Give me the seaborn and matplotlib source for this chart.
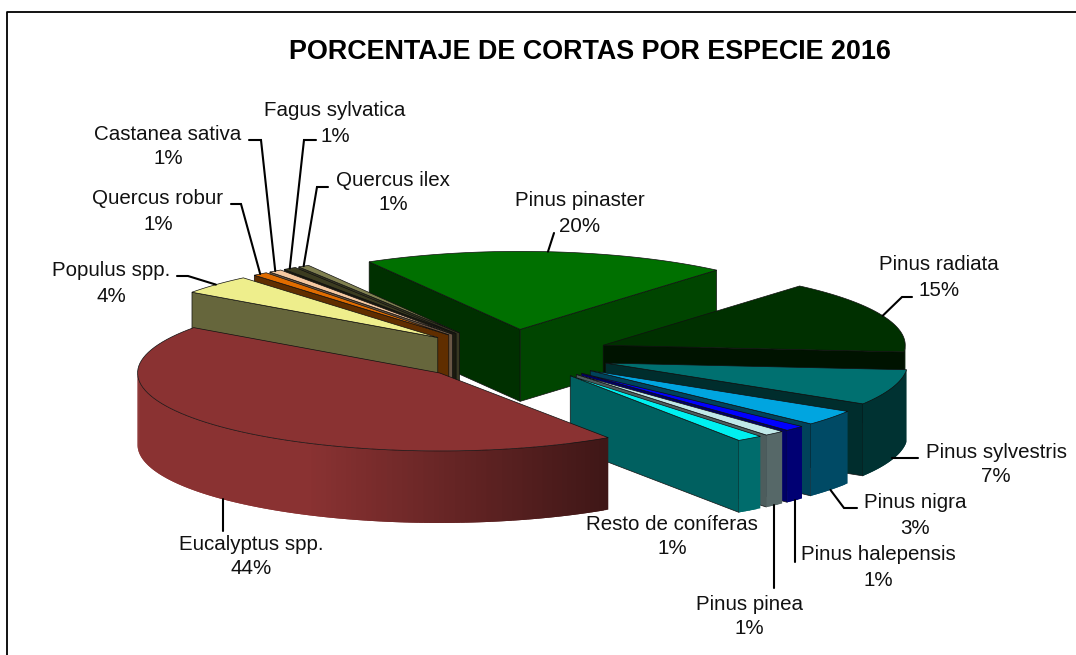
import numpy as np
import matplotlib
matplotlib.use('Agg')
import matplotlib.pyplot as plt
from matplotlib.patches import Polygon
import seaborn as sns

# Data, clockwise from Pinus pinaster
species = ['Pinus pinaster', 'Pinus radiata', 'Pinus sylvestris', 'Pinus nigra',
           'Pinus halepensis', 'Pinus pinea', 'Resto de coníferas', 'Eucalyptus spp.',
           'Populus spp.', 'Quercus robur', 'Castanea sativa', 'Fagus sylvatica', 'Quercus ilex']
shares = [19.6, 15.1, 7.4, 3.2, 1.1, 1.1, 1.4, 44.3, 4.0, 0.8, 0.7, 0.7, 0.6]
pct_labels = ['20%', '15%', '7%', '3%', '1%', '1%', '1%', '44%', '4%', '1%', '1%', '1%', '1%']
top_colors = ['#007000', '#003000', '#007070', '#00A5E0', '#0000FF', '#C0E8E8', '#00F0F0',
              '#8A3232', '#EEEE8C', '#E06C00', '#F5C8A0', '#3C3C20', '#808050']

# Pie geometry in figure pixels
CX, CY = 511, 355
RX, RY = 302, 78
DEPTH = 72
EXPLODE = 0.33
START = -30

sns.set_theme(style='white')
plt.rcParams['font.family'] = ['Liberation Sans', 'DejaVu Sans']
palette = sns.color_palette(top_colors)

fig, ax = plt.subplots(figsize=(10.76, 6.55), dpi=100)
fig.subplots_adjust(0, 0, 1, 1)
ax.set_xlim(0, 1076)
ax.set_ylim(655, 0)
ax.axis('off')


def rim_point(apex, deg, down=0):
    t = np.radians(deg)
    return (apex[0] + RX * np.sin(t), apex[1] - RY * np.cos(t) + down)


def shade(color, f):
    return tuple(c * f for c in color)


def rim_light(deg):
    return min(1.0, max(0.45, 0.76 - 0.55 * np.sin(np.radians(deg))))


edges = np.cumsum([0] + shares) * 3.6 + START
slices = {}
for i, name in enumerate(species):
    a0, a1 = edges[i], edges[i + 1]
    mid = np.radians((a0 + a1) / 2)
    apex = (CX + EXPLODE * RX * np.sin(mid), CY - EXPLODE * RY * np.cos(mid))
    slices[name] = (a0, a1, apex, palette[i])


def draw_slice(name):
    a0, a1, apex, color = slices[name]
    low = (apex[0], apex[1] + DEPTH)
    z = draw_slice.z
    line = dict(edgecolor='#101010', linewidth=0.5, zorder=z)
    # cut faces
    if np.sin(np.radians(a0)) < 0:
        face = [apex, rim_point(apex, a0), rim_point(apex, a0, DEPTH), low]
        ax.add_patch(Polygon(face, facecolor=shade(color, 0.43), **line))
    if np.sin(np.radians(a1)) > 0:
        f = 0.4 + 0.22 * max(0, np.cos(np.radians(a1))) / 0.766
        face = [apex, rim_point(apex, a1), rim_point(apex, a1, DEPTH), low]
        ax.add_patch(Polygon(face, facecolor=shade(color, f), **line))
    # outer wall, only the part facing the viewer
    lo, hi = max(a0, 90), min(a1, 270)
    if hi > lo:
        steps = np.linspace(lo, hi, int(hi - lo) + 2)
        for s0, s1 in zip(steps[:-1], steps[1:]):
            col = shade(color, rim_light((s0 + s1) / 2))
            # strips overlap the next one so no seam shows
            s2 = min(hi, s1 + 1)
            arc = np.linspace(s0, s2, 6)
            strip = [rim_point(apex, d) for d in arc] + [rim_point(apex, d, DEPTH) for d in arc[::-1]]
            ax.add_patch(Polygon(strip, facecolor=col, edgecolor='none', linewidth=0, zorder=z))
    # top
    arc = [rim_point(apex, d) for d in np.linspace(a0, a1, 80)]
    ax.add_patch(Polygon([apex] + arc, facecolor=color, edgecolor='#101010', linewidth=0.5, zorder=z))
    draw_slice.z += 1


draw_slice.z = 2
draw_order = ['Pinus pinaster', 'Pinus radiata', 'Pinus sylvestris', 'Pinus nigra', 'Pinus halepensis',
              'Pinus pinea', 'Resto de coníferas', 'Quercus ilex', 'Fagus sylvatica', 'Castanea sativa',
              'Quercus robur', 'Populus spp.', 'Eucalyptus spp.']
for name in draw_order:
    draw_slice(name)

# Labels: name, centre x, name y, percent y
label_pos = {
    'Pinus pinaster': (580, 201, 226),
    'Pinus radiata': (939, 265, 290),
    'Pinus sylvestris': (996, 452, 476),
    'Pinus nigra': (915, 503, 528),
    'Pinus halepensis': (878, 555, 580),
    'Pinus pinea': (749, 604, 628),
    'Resto de coníferas': (672, 525, 549),
    'Eucalyptus spp.': (251, 545, 569),
    'Populus spp.': (111, 271, 296),
    'Quercus robur': (158, 199, 224),
    'Castanea sativa': (168, 134, 158),
    'Fagus sylvatica': (335, 110, 136),
    'Quercus ilex': (393, 180, 204),
}
for i, name in enumerate(species):
    x, y0, y1 = label_pos[name]
    ax.text(x, y0, name, ha='center', va='center', fontsize=14.8, color='#111111', zorder=40)
    ax.text(x, y1, pct_labels[i], ha='center', va='center', fontsize=14.8, color='#111111', zorder=40)

# Leader lines: label side points, last point comes from the slice rim
leaders = {
    'Pinus pinaster': ([(554, 233)], 0),
    'Pinus radiata': ([(912, 297), (902, 297)], 0),
    'Pinus sylvestris': ([(918, 458), (892, 458)], None),
    'Pinus nigra': ([(857, 508), (844, 508)], DEPTH),
    'Pinus halepensis': ([(None, 562)], DEPTH),
    'Pinus pinea': ([(None, 588)], DEPTH),
    'Eucalyptus spp.': ([(None, 531)], DEPTH),
    'Populus spp.': ([(177, 276), (188, 276)], 0),
    'Quercus robur': ([(231, 204), (241, 204)], 0),
    'Castanea sativa': ([(249, 140), (261, 140)], 0),
    'Fagus sylvatica': ([(316, 140), (304, 140)], 0),
    'Quercus ilex': ([(328, 187), (317, 187)], 0),
}
for name, (pts, down) in leaders.items():
    a0, a1, apex, _ = slices[name]
    if down is None:
        xs = [p[0] for p in pts]
        ys = [p[1] for p in pts]
    else:
        end = rim_point(apex, (a0 + a1) / 2, down)
        xs = [end[0] if p[0] is None else p[0] for p in pts] + [end[0]]
        ys = [p[1] for p in pts] + [end[1]]
    ax.plot(xs, ys, color='black', lw=1.5, zorder=30, solid_joinstyle='miter')

# Title and frame
ax.text(590, 52, 'PORCENTAJE DE CORTAS POR ESPECIE 2016', ha='center', va='center',
        fontsize=19.4, fontweight='bold', color='black', zorder=40)
ax.plot([7, 7, 1076], [655, 12, 12], color='black', lw=1.3, zorder=50)

fig.savefig('out.png', dpi=100, facecolor='white')
